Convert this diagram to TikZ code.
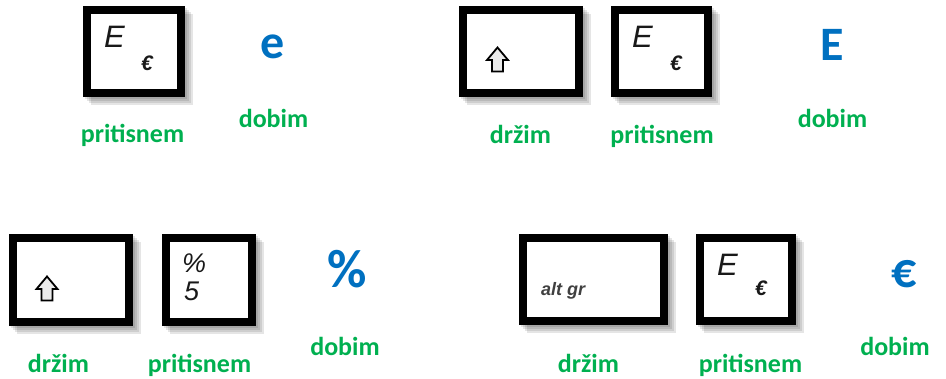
\documentclass[tikz,border=0pt]{standalone}
\usepackage{fontspec}
\setmainfont{Carlito}
\newfontfamily\keyfont{Liberation Sans}
\usetikzlibrary{calc,backgrounds}
\definecolor{grn}{HTML}{00B050}
\definecolor{blu}{HTML}{0070C0}
\tikzset{
  keybox/.style={draw=black, line width=8pt, fill=white, inner sep=0pt, outer sep=0pt},
  lbl/.style={text=grn, font=\fontsize{26}{26}\selectfont\bfseries, anchor=base, inner sep=0pt},
  res/.style={text=blu, font=\fontsize{48}{48}\selectfont\bfseries, anchor=base, inner sep=0pt},
  bigkey/.style={font=\keyfont\itshape\fontsize{31}{31}\selectfont, inner sep=0pt, anchor=base west, text=black!90},
  smallkey/.style={font=\keyfont\bfseries\itshape\fontsize{21}{21}\selectfont, inner sep=0pt, anchor=base west, text=black!90},
  midkey/.style={font=\keyfont\itshape\fontsize{27}{27}\selectfont, inner sep=0pt, anchor=base west, text=black!90},
  altkey/.style={font=\keyfont\bfseries\itshape\fontsize{18}{18}\selectfont, inner sep=0pt, anchor=base west, text=black!75},
  shiftarrow/.pic={\draw[line width=1.8pt, line join=miter, fill=black!8]
     (0,-12) -- (10.5,0.5) -- (5.5,0.5) -- (5.5,12) -- (-5.5,12) -- (-5.5,0.5) -- (-10.5,0.5) -- cycle;},
  shade1/.style={fill=black, opacity=0.10}
}
\newcommand{\keyshadow}[1]{%
  \foreach \d in {2,4,6,8}{
    \fill[shade1] ($(#1.north west)+(-4+\d,-4+\d)$) rectangle ($(#1.south east)+(4+\d,4+\d)$);
  }}
\begin{document}
\begin{tikzpicture}[x=1pt,y=-1pt]
\useasboundingbox (0,0) rectangle (946,378);

% keys
\node[keybox, minimum width=94pt, minimum height=83pt] (k1) at (134,51.5) {};
\node[keybox, minimum width=116pt, minimum height=83pt] (k2) at (521,51.5) {};
\node[keybox, minimum width=93pt, minimum height=83pt] (k3) at (661.5,51.5) {};
\node[keybox, minimum width=116pt, minimum height=84pt] (k4) at (71,280) {};
\node[keybox, minimum width=86pt, minimum height=84pt] (k5) at (209,280) {};
\node[keybox, minimum width=141pt, minimum height=83pt] (k6) at (593.5,279.5) {};
\node[keybox, minimum width=92pt, minimum height=83pt] (k7) at (746,279.5) {};

\begin{scope}[on background layer]
  \keyshadow{k1}\keyshadow{k2}\keyshadow{k3}\keyshadow{k4}
  \keyshadow{k5}\keyshadow{k6}\keyshadow{k7}
\end{scope}

% key legends
\node[bigkey] (k1E) at (104,47) {E};
\node[smallkey] (k1eu) at (141,70) {€};
\pic (k2s) at (497.5,59.5) {shiftarrow};
\node[bigkey] (k3E) at (632,47) {E};
\node[smallkey] (k3eu) at (670,70) {€};
\pic (k4s) at (47,288.5) {shiftarrow};
\node[midkey] (k5p) at (182,272) {\%};
\node[midkey] (k5f) at (184,300) {5};
\node[altkey] (k6a) at (541,295) {alt gr};
\node[bigkey] (k7E) at (717,275) {E};
\node[smallkey] (k7eu) at (755,295) {€};

% results
\node[res] (r1) at (273,58) {e};
\node[res] (r2) at (832.5,60) {E};
\node[res, font=\fontsize{54}{54}\selectfont\bfseries] (r3) at (347,287) {\%};
\node[res, font=\fontsize{50}{50}\selectfont\bfseries] (r4) at (904.5,287) {€};

% labels
\node[lbl] (l1) at (132.5,142) {pritisnem};
\node[lbl] (l2) at (273.5,127) {dobim};
\node[lbl] (l3) at (520.5,143) {držim};
\node[lbl] (l4) at (662,143) {pritisnem};
\node[lbl] (l5) at (832.5,127) {dobim};
\node[lbl] (l6) at (58.5,372) {držim};
\node[lbl] (l7) at (199.5,372) {pritisnem};
\node[lbl] (l8) at (345,355) {dobim};
\node[lbl] (l9) at (588.5,372) {držim};
\node[lbl] (l10) at (750.5,372) {pritisnem};
\node[lbl] (l11) at (895,355) {dobim};
\end{tikzpicture}
\end{document}
